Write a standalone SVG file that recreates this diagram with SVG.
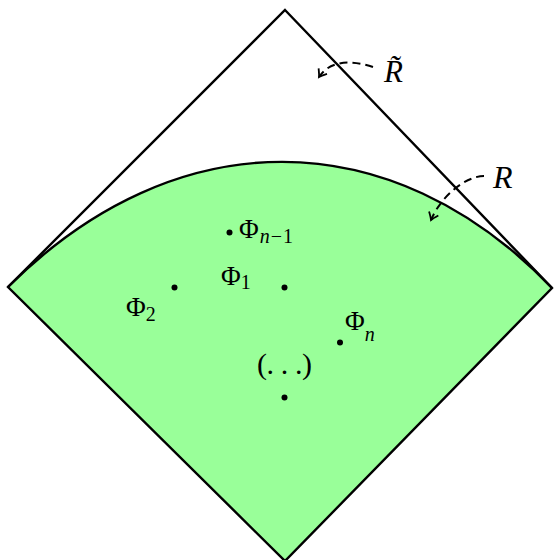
<svg xmlns="http://www.w3.org/2000/svg" width="554" height="560" viewBox="0 0 554 560">
<style>
.edge{fill:none;stroke:#000;stroke-width:2.4;stroke-linejoin:miter}
.green{fill:#99ff99;stroke:none}
.dash{fill:none;stroke:#000;stroke-width:2;stroke-dasharray:8 5}
.dot{fill:#000}
text{font-family:"Liberation Serif","Times New Roman",serif;fill:#000}
.phi{font-size:27px}
.sub{font-size:20px}
.it{font-style:italic}
</style>
<defs>
<marker id="arr" markerUnits="userSpaceOnUse" markerWidth="16" markerHeight="16" viewBox="-9 -8 11 16" refX="0" refY="0" orient="auto">
<path d="M-7,-5 Q-2,-1 0,0 Q-2,1 -7,5" fill="none" stroke="#000" stroke-width="1.8" stroke-dasharray="none"/>
</marker>
</defs>
<g id="region">
<path class="green" d="M8,287 C175,120 391,120 552,288 L285,561 Z"/>
</g>
<g id="connectors">
<path class="edge" d="M8,287 C175,120 391,120 552,288"/>
<path class="edge" d="M285,10 L552,288 L285,561 L8,287 Z"/>
<path class="dash" d="M373,67 C352,60 330,60 319,77" marker-end="url(#arr)"/>
<path class="dash" d="M484,176 C466,176 441,196 431,220" marker-end="url(#arr)"/>
</g>
<g id="label-Rtilde"><text class="it" x="384" y="82" font-size="31">R̃</text></g>
<g id="label-R"><text class="it" x="493" y="188" font-size="32">R</text></g>
<g id="phi-n-1">
<circle class="dot" cx="229.5" cy="232.5" r="3"/>
<text x="239" y="238"><tspan class="phi">Φ</tspan><tspan class="sub it" y="243" dx="1">n</tspan><tspan class="sub" y="243" dx="1">−</tspan><tspan class="sub" y="243" dx="1">1</tspan></text>
</g>
<g id="phi-1">
<circle class="dot" cx="284.5" cy="287.5" r="3"/>
<text x="221" y="285"><tspan class="phi">Φ</tspan><tspan class="sub" y="289">1</tspan></text>
</g>
<g id="phi-2">
<circle class="dot" cx="174.5" cy="287.5" r="3"/>
<text x="126" y="316"><tspan class="phi">Φ</tspan><tspan class="sub" y="321">2</tspan></text>
</g>
<g id="phi-n">
<circle class="dot" cx="340" cy="342.5" r="3"/>
<text x="345" y="330"><tspan class="phi">Φ</tspan><tspan class="sub it" y="341">n</tspan></text>
</g>
<g id="dots-etc">
<circle class="dot" cx="284.5" cy="397.5" r="3"/>
<text x="257" y="374" font-size="30" textLength="55" lengthAdjust="spacing">(. . .)</text>
</g>
</svg>
